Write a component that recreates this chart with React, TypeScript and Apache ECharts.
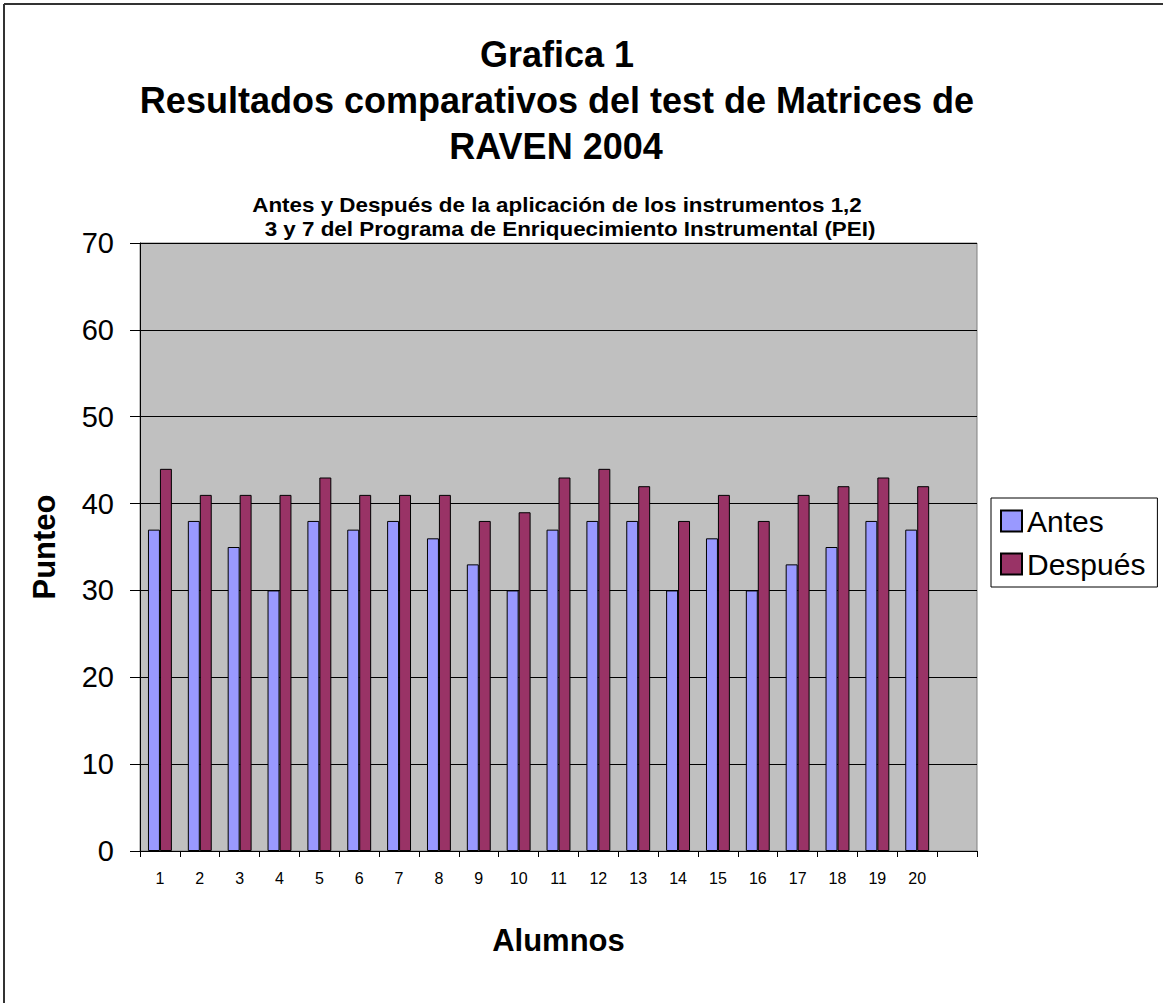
import React, { useEffect, useRef } from "react";
import * as echarts from "echarts";

const categories = ["1","2","3","4","5","6","7","8","9","10","11","12","13","14","15","16","17","18","19","20",""];
const antes = [37,38,35,30,38,37,38,36,33,30,37,38,38,30,36,30,33,35,38,37,null];
const despues = [44,41,41,41,43,41,41,41,38,39,43,44,42,38,41,38,41,42,43,42,null];
const yTicks = { min: 0, max: 70, interval: 10 };
const titleLines = ["Grafica 1", "Resultados comparativos del test de Matrices de", "RAVEN 2004"];
const subtitleLines = ["Antes y Después de la aplicación de los instrumentos 1,2", "3 y 7 del Programa de Enriquecimiento Instrumental (PEI)"];

const FONT = "Arial, 'Liberation Sans', sans-serif";

export default function App() {
  const ref = useRef<HTMLDivElement>(null);
  useEffect(() => {
    document.body.style.margin = "0";
    const chart = echarts.init(ref.current!, null, { renderer: "svg" });
    const titleY = [54, 100, 146];
    const titleX = [557, 557, 556];
    const subY = [205, 229];
    const subX = [557, 570];
    chart.setOption({
      animation: false,
      backgroundColor: "#fff",
      textStyle: { fontFamily: FONT },
      graphic: [
        { type: "line", shape: { x1: 4, y1: 4, x2: 1163, y2: 4 }, style: { stroke: "#333", lineWidth: 2 } },
        { type: "line", shape: { x1: 4, y1: 4, x2: 4, y2: 1003 }, style: { stroke: "#333", lineWidth: 2 } },
        ...titleLines.map((t, i) => ({
          type: "text", x: titleX[i], y: titleY[i],
          style: { text: t, fontSize: 36, fontWeight: "bold", fontFamily: FONT, fill: "#000", textAlign: "center", textVerticalAlign: "middle" },
        })),
        ...subtitleLines.map((t, i) => ({
          type: "text", x: subX[i], y: subY[i], scaleX: 1.12,
          style: { text: t, fontSize: 20, fontWeight: "bold", fontFamily: FONT, fill: "#000", textAlign: "center", textVerticalAlign: "middle" },
        })),
      ],
      legend: {
        orient: "vertical", left: 991, top: 498,
        padding: [8, 12, 8, 9], itemGap: 13,
        itemWidth: 21, itemHeight: 21, itemTextGap: 10,
        borderColor: "#000", borderWidth: 1,
        icon: "rect",
        textStyle: { fontSize: 30, color: "#000", fontFamily: FONT },
        data: ["Antes", "Después"],
      },
      grid: {
        left: 140, top: 243, width: 837, height: 608,
        show: true, backgroundColor: "#C0C0C0", borderColor: "#808080", borderWidth: 1,
      },
      xAxis: {
        type: "category", data: categories,
        name: "Alumnos", nameLocation: "middle", nameGap: 74,
        nameTextStyle: { fontSize: 31, fontWeight: "bold", color: "#000", fontFamily: FONT },
        axisLine: { show: true, lineStyle: { color: "#000", width: 1 } },
        axisTick: { show: true, length: 6, lineStyle: { color: "#000" } },
        axisLabel: { fontSize: 16, color: "#000", margin: 19, fontFamily: FONT },
        splitLine: { show: false },
      },
      yAxis: {
        type: "value", min: yTicks.min, max: yTicks.max, interval: yTicks.interval,
        name: "Punteo", nameLocation: "middle", nameGap: 80, nameRotate: 90,
        nameTextStyle: { fontSize: 31, fontWeight: "bold", color: "#000", fontFamily: FONT },
        axisLine: { show: true, lineStyle: { color: "#000", width: 1 } },
        axisTick: { show: true, length: 10, lineStyle: { color: "#000" } },
        axisLabel: { fontSize: 29, color: "#000", margin: 26, fontFamily: FONT },
        splitLine: { show: true, lineStyle: { color: "#000", width: 1 } },
      },
      series: [
        {
          name: "Antes", type: "bar", data: antes, barGap: "0%", barCategoryGap: "40%",
          itemStyle: { color: "#9999FF", borderColor: "#000", borderWidth: 1 },
        },
        {
          name: "Después", type: "bar", data: despues, barGap: "0%", barCategoryGap: "40%",
          itemStyle: { color: "#993366", borderColor: "#000", borderWidth: 1 },
        },
      ],
    });
    return () => chart.dispose();
  }, []);
  return <div ref={ref} style={{ position: "absolute", left: 0, top: 0, width: 1163, height: 1003 }} />;
}
